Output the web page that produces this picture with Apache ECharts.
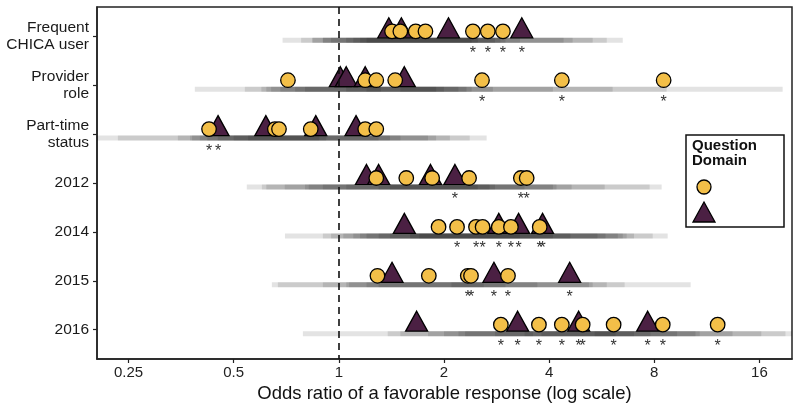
<!DOCTYPE html>
<html>
<head>
<meta charset="utf-8">
<script src="https://cdn.jsdelivr.net/npm/echarts@6/dist/echarts.min.js"></script>
<style>
  html, body { margin: 0; padding: 0; background: #fff; }
  #chart { width: 800px; height: 411px; }
</style>
</head>
<body>
<div id="chart"></div>
<script>
// row labels, top to bottom
var rowLabels = ['Frequent\nCHICA user', 'Provider\nrole', 'Part-time\nstatus', '2012', '2014', '2015', '2016'];
var xTickValues = [0.25, 0.5, 1, 2, 4, 8, 16];

// question domain 1 (circles): odds ratios, 95% CI and significance, one list per row
var circleOR = [
  [1.42, 1.50, 1.66, 1.77, 2.42, 2.67, 2.95],
  [0.715, 1.19, 1.28, 1.45, 2.57, 4.35, 8.51],
  [0.425, 0.656, 0.674, 0.831, 1.19, 1.28],
  [1.28, 1.56, 1.85, 2.36, 3.32, 3.45],
  [1.93, 2.18, 2.47, 2.58, 2.87, 3.11, 3.76],
  [1.29, 1.81, 2.34, 2.39, 3.05],
  [2.91, 3.74, 4.35, 4.99, 6.12, 8.46, 12.15]
];
var circleLo = [
  [0.84, 0.90, 0.90, 0.95, 1.05, 1.10, 1.15],
  [0.387, 0.62, 0.68, 0.75, 1.05, 1.2, 1.5],
  [0.19, 0.375, 0.38, 0.40, 0.50, 0.55],
  [0.602, 0.70, 0.82, 0.90, 1.3, 1.4],
  [0.90, 1.03, 1.10, 1.15, 1.20, 1.30, 1.60],
  [0.643, 0.90, 1.05, 1.07, 1.30],
  [1.38, 1.8, 2.0, 2.3, 2.8, 3.8, 5.4]
];
var circleHi = [
  [2.4, 2.5, 3.0, 3.3, 4.67, 5.33, 5.85],
  [1.32, 2.32, 2.4, 2.76, 6.08, 8.68, 18.65],
  [0.92, 1.4, 1.5, 1.8, 2.37, 2.65],
  [2.7, 3.4, 4.2, 5.77, 7.76, 8.4],
  [4.1, 4.6, 5.5, 5.8, 6.29, 6.5, 7.92],
  [2.6, 3.7, 5.2, 5.33, 6.58],
  [6.2, 7.8, 9.3, 10.8, 13.4, 19, 27]
];
var circleSig = [
  [0, 0, 0, 0, 1, 1, 1],
  [0, 0, 0, 0, 1, 1, 1],
  [1, 0, 0, 0, 0, 0],
  [0, 0, 0, 0, 1, 1],
  [0, 1, 1, 1, 1, 1, 1],
  [0, 0, 1, 1, 1],
  [1, 1, 1, 1, 1, 1, 1]
];

// question domain 2 (triangles)
var triOR = [
  [1.39, 1.51, 2.06, 3.34],
  [1.01, 1.05, 1.19, 1.54],
  [0.451, 0.618, 0.859, 1.12],
  [1.20, 1.30, 1.83, 2.15],
  [1.54, 2.87, 3.27, 3.83],
  [1.42, 2.78, 4.58],
  [1.67, 3.25, 4.86, 7.66]
];
var triLo = [
  [0.69, 0.78, 0.84, 1.2],
  [0.538, 0.60, 0.64, 0.80],
  [0.233, 0.346, 0.42, 0.45],
  [0.545, 0.62, 0.80, 1.05],
  [0.701, 0.95, 1.4, 1.7],
  [0.669, 1.2, 2.1],
  [0.789, 1.5, 2.2, 3.4]
];
var triHi = [
  [2.8, 2.9, 4.4, 6.5],
  [1.9, 2.0, 2.2, 4.1],
  [0.88, 1.3, 1.9, 2.08],
  [2.5, 2.8, 4.1, 4.64],
  [3.3, 6.67, 7.0, 8.74],
  [3.0, 5.85, 10.17],
  [3.6, 7.0, 10.5, 16.2]
];
var triSig = [
  [0, 0, 0, 1],
  [0, 0, 0, 0],
  [1, 0, 0, 0],
  [0, 0, 0, 1],
  [0, 0, 1, 1],
  [0, 1, 1],
  [0, 1, 1, 1]
];

var FONT = '"Liberation Sans", Arial, sans-serif';

function log2(v) { return Math.log(v) / Math.LN2; }

function points(orRows) {
  var out = [];
  orRows.forEach(function (row, r) {
    row.forEach(function (v) { out.push([log2(v), r]); });
  });
  return out;
}

function intervals(loRows, hiRows, out) {
  loRows.forEach(function (row, r) {
    row.forEach(function (lo, i) { out.push([log2(lo), log2(hiRows[r][i]), r]); });
  });
  return out;
}

function stars(orRows, sigRows, out) {
  orRows.forEach(function (row, r) {
    row.forEach(function (v, i) { if (sigRows[r][i]) out.push([log2(v), r]); });
  });
  return out;
}

var ciData = intervals(triLo, triHi, intervals(circleLo, circleHi, []));
var starData = stars(triOR, triSig, stars(circleOR, circleSig, []));
var tickLog = xTickValues.map(log2);
var rowIdx = rowLabels.map(function (d, i) { return i; });

var chart = echarts.init(document.getElementById('chart'));

var option = {
  animation: false,
  grid: { left: 97, right: 8, top: 7, bottom: 52, show: true, borderColor: '#222', borderWidth: 1.5 },
  xAxis: {
    type: 'value',
    min: -2.3,
    max: 4.31,
    name: 'Odds ratio of a favorable response (log scale)',
    nameLocation: 'middle',
    nameGap: 22,
    nameTextStyle: { fontFamily: FONT, fontSize: 18.5, color: '#111' },
    axisLine: { onZero: false, lineStyle: { color: '#222', width: 1.5 } },
    axisTick: { customValues: tickLog, length: 4, lineStyle: { color: '#222', width: 1.2 } },
    axisLabel: {
      customValues: tickLog,
      fontFamily: FONT, fontSize: 15, color: '#222', margin: 6,
      formatter: function (v) { return String(Math.round(Math.pow(2, v) * 100) / 100); }
    },
    splitLine: { show: false }
  },
  yAxis: {
    type: 'value',
    inverse: true,
    min: -0.6,
    max: 6.6,
    axisLine: { show: true, onZero: false, lineStyle: { color: '#222', width: 1.5 } },
    axisTick: { show: true, customValues: rowIdx, length: 4, lineStyle: { color: '#222', width: 1.2 } },
    axisLabel: {
      customValues: rowIdx,
      fontFamily: FONT, fontSize: 15.5, color: '#1a1a1a', margin: 8, lineHeight: 16.5,
      formatter: function (v) { return rowLabels[Math.round(v)]; }
    },
    splitLine: { show: false }
  },
  series: [
    {
      name: 'CI',
      type: 'custom',
      clip: true,
      z: 1,
      data: ciData,
      renderItem: function (params, api) {
        var a = api.coord([api.value(0), api.value(2)]);
        var b = api.coord([api.value(1), api.value(2)]);
        return {
          type: 'rect',
          shape: { x: a[0], y: a[1] + 4 - 2.5, width: b[0] - a[0], height: 5 },
          style: { fill: 'rgba(0,0,0,0.11)' }
        };
      },
      markLine: {
        silent: true,
        symbol: ['none', 'none'],
        label: { show: false },
        lineStyle: { color: '#111', type: [7, 5], width: 1.6 },
        data: [{ xAxis: 0 }]
      }
    },
    {
      name: 'Domain B',
      type: 'scatter',
      z: 3,
      symbol: 'triangle',
      symbolSize: [22, 20],
      symbolOffset: [0, -8.5],
      itemStyle: { color: '#4B2043', borderColor: '#000', borderWidth: 1.3, opacity: 1 },
      data: points(triOR)
    },
    {
      name: 'Domain A',
      type: 'scatter',
      z: 4,
      symbol: 'circle',
      symbolSize: 14.5,
      symbolOffset: [0, -5],
      itemStyle: { color: '#F3BF48', borderColor: '#000', borderWidth: 1.3, opacity: 1 },
      data: points(circleOR)
    },
    {
      name: 'Significant',
      type: 'custom',
      z: 5,
      data: starData,
      renderItem: function (params, api) {
        var p = api.coord([api.value(0), api.value(1)]);
        return {
          type: 'text',
          x: p[0],
          y: p[1] + 17,
          style: {
            text: '*', fill: '#333', font: '16px ' + FONT,
            align: 'center', verticalAlign: 'middle',
            textAlign: 'center', textVerticalAlign: 'middle'
          }
        };
      }
    }
  ],
  graphic: [
    {
      type: 'rect',
      shape: { x: 686, y: 135, width: 98, height: 92 },
      style: { fill: '#fff', stroke: '#111', lineWidth: 1.5 },
      z: 10
    },
    {
      type: 'text',
      x: 692, y: 138,
      style: { text: 'Question\nDomain', font: 'bold 15px ' + FONT, fill: '#111', lineHeight: 15 },
      z: 11
    },
    {
      type: 'circle',
      shape: { cx: 704, cy: 187, r: 7 },
      style: { fill: '#F3BF48', stroke: '#000', lineWidth: 1.3 },
      z: 11
    },
    {
      type: 'polygon',
      shape: { points: [[693, 222], [715, 222], [704, 202]] },
      style: { fill: '#4B2043', stroke: '#000', lineWidth: 1.3 },
      z: 11
    }
  ]
};

chart.setOption(option);

window.addEventListener('resize', function () {
  chart.resize();
});
</script>
</body>
</html>
